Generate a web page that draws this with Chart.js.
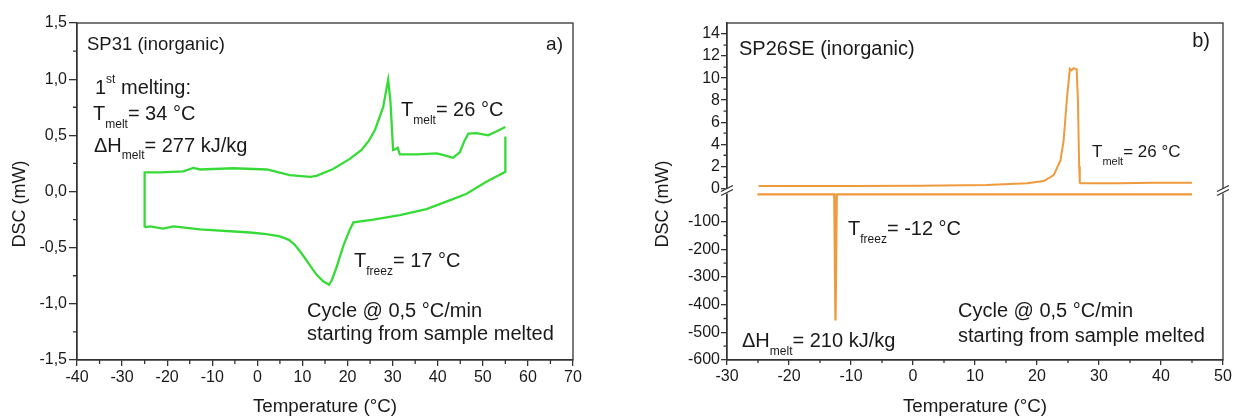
<!DOCTYPE html>
<html>
<head>
<meta charset="utf-8">
<script src="https://cdn.jsdelivr.net/npm/chart.js@4.4.1/dist/chart.umd.min.js"></script>
<style>
  html, body { margin: 0; padding: 0; background: #fff; }
  #wrap { position: relative; width: 1237px; height: 418px; overflow: hidden; }
  #left { position: absolute; left: 0; top: 0; }
  #right { position: absolute; left: 618px; top: 0; }
</style>
</head>
<body>
<div id="wrap">
  <canvas id="left" width="618" height="418"></canvas>
  <canvas id="right" width="619" height="418"></canvas>
</div>
<script>
// panel a) SP31 - cooling from 55 C down to -25 C, then heating back
const aCoolTemp = [55, 55, 50.8, 46.4, 41.9, 37.5, 31.6, 25.7, 21.3, 20.5, 19.0, 17.6, 16.5, 15.9, 14.6, 13.1, 11.7, 10.5, 9.4, 8.2, 7.0, 5.0, 2.0, -1.6, -12.7, -18.6, -20.9, -23.8, -25];
const aCoolDsc = [0.49, 0.175, 0.086, -0.02, -0.09, -0.157, -0.21, -0.25, -0.275, -0.34, -0.49, -0.67, -0.79, -0.83, -0.80, -0.74, -0.66, -0.59, -0.53, -0.47, -0.43, -0.40, -0.38, -0.365, -0.338, -0.31, -0.33, -0.31, -0.32];
const aHeatTemp = [-25, -25, -21.6, -16.4, -14.2, -12.7, -5.3, 2.1, 7.2, 11.7, 13.1, 16.8, 20.5, 23.1, 24.7, 26.1, 27.9, 29.0, 29.5, 30.1, 30.5, 31.1, 31.6, 35.3, 39.8, 41.9, 43.4, 44.9, 46.0, 46.8, 48.6, 51.2, 53.1, 55.0];
const aHeatDsc = [-0.32, 0.17, 0.17, 0.18, 0.21, 0.196, 0.207, 0.196, 0.145, 0.13, 0.14, 0.2, 0.29, 0.37, 0.45, 0.55, 0.75, 0.995, 0.81, 0.37, 0.375, 0.39, 0.33, 0.33, 0.34, 0.317, 0.30, 0.35, 0.457, 0.516, 0.52, 0.50, 0.537, 0.575];
const aTempTicks = [-40, -30, -20, -10, 0, 10, 20, 30, 40, 50, 60, 70];
const aDscTicks = [-1.5, -1.0, -0.5, 0.0, 0.5, 1.0, 1.5];

// panel b) SP26SE - broken y axis (upper 0..15, lower -600..0)
const bHeatTemp = [-24.9, -10, 1.2, 11.9, 18.4, 21.1, 22.7, 23.8, 24.3, 24.8, 25.3, 25.6, 25.9, 26.2, 26.4, 26.6, 26.8, 26.9, 27.1, 33.4, 38.8, 45.0];
const bHeatDsc = [0.21, 0.22, 0.23, 0.3, 0.45, 0.66, 1.2, 2.56, 4.36, 7.98, 10.84, 10.7, 10.9, 10.84, 10.8, 8.0, 2.0, 0.5, 0.45, 0.45, 0.5, 0.5];
const bCoolTemp = [45, -12.3, -12.5, -12.7, -25.1];
const bCoolDsc = [-1.1, -1.1, -457, -1.1, -1.1];
const bTempTicks = [-30, -20, -10, 0, 10, 20, 30, 40, 50];
const bDscUpperTicks = [0, 2, 4, 6, 8, 10, 12, 14];
const bDscLowerTicks = [-600, -500, -400, -300, -200, -100];

const FONT = 'Arial, "Liberation Sans", Helvetica, sans-serif';
const INK = '#1a1a1a';
const AXIS = '#333';

function pts(xs, ys) {
    return xs.map((x, i) => ({ x: x, y: ys[i] }));
}

function fixedTicks(values) {
    return scale => { scale.ticks = values.map(v => ({ value: v })); };
}

function drawRich(ctx, x, y, parts, align) {
    if (align === 'right') {
        let w = 0;
        parts.forEach(p => { ctx.font = p.size + 'px ' + FONT; w += ctx.measureText(p.text).width; });
        x -= w;
    }
    parts.forEach(p => {
        ctx.font = p.size + 'px ' + FONT;
        ctx.fillText(p.text, x, y + (p.dy || 0));
        x += ctx.measureText(p.text).width;
    });
}

// box around plot, minor ticks, rotated y title, text labels, axis break
const decorPlugin = {
    id: 'decor',
    afterDraw(chart, args, opts) {
        const ctx = chart.ctx;
        const a = chart.chartArea;
        ctx.save();
        ctx.strokeStyle = AXIS;
        ctx.lineWidth = 1.3;
        ctx.strokeRect(a.left, a.top, a.right - a.left, a.bottom - a.top);

        // minor ticks half way between the major ones
        Object.keys(opts.minor || {}).forEach(id => {
            const s = chart.scales[id];
            const len = opts.minor[id];
            const vals = s.ticks.map(t => t.value);
            const minors = [];
            for (let i = 0; i < vals.length - 1; i++) minors.push((vals[i] + vals[i + 1]) / 2);
            const step = vals[1] - vals[0];
            const first = vals[0] - step / 2, last = vals[vals.length - 1] + step / 2;
            if (first >= s.min + 0.01) minors.push(first);
            if (last <= s.max - 0.01) minors.push(last);
            ctx.beginPath();
            minors.forEach(v => {
                const p = s.getPixelForValue(v);
                if (s.isHorizontal()) {
                    ctx.moveTo(p, s.top);
                    ctx.lineTo(p, s.top + len);
                } else {
                    ctx.moveTo(s.right, p);
                    ctx.lineTo(s.right - len, p);
                }
            });
            ctx.stroke();
        });

        // axis break marks
        if (opts.breakAt) {
            const yb = chart.scales[opts.breakAt].bottom - 1;
            [a.left, a.right].forEach(xb => {
                ctx.fillStyle = '#fff';
                ctx.fillRect(xb - 2, yb - 2, 4, 5);
                ctx.beginPath();
                ctx.moveTo(xb - 6, yb + 5); ctx.lineTo(xb + 6, yb - 1);
                ctx.moveTo(xb - 6, yb + 1); ctx.lineTo(xb + 6, yb - 5);
                ctx.stroke();
            });
        }

        ctx.fillStyle = INK;
        if (opts.yTitle) {
            ctx.save();
            ctx.translate(opts.yTitle.x, opts.yTitle.y);
            ctx.rotate(-Math.PI / 2);
            ctx.font = '18px ' + FONT;
            ctx.textAlign = 'center';
            ctx.textBaseline = 'middle';
            ctx.fillText(opts.yTitle.text, 0, 0);
            ctx.restore();
        }

        ctx.textBaseline = 'alphabetic';
        ctx.textAlign = 'left';
        (opts.labels || []).forEach(l => drawRich(ctx, l.x, l.y, l.parts, l.align));
        ctx.restore();
    }
};

function tickFont() {
    return { family: FONT, size: 16 };
}

function xScale(min, max, values, tickLen) {
    return {
        type: 'linear',
        min: min,
        max: max,
        afterBuildTicks: fixedTicks(values),
        afterFit: s => { s.height = 58; },
        ticks: { color: INK, font: tickFont(), padding: 2, autoSkip: false, maxRotation: 0 },
        grid: { drawOnChartArea: false, drawTicks: true, tickLength: tickLen, color: AXIS, lineWidth: 1.3 },
        border: { color: AXIS, width: 1.3 },
        title: { display: true, text: 'Temperature (\u00B0C)', color: INK, font: { family: FONT, size: 18.8 }, padding: { top: 0, bottom: 0 } }
    };
}

const T20 = 20, SUB = 12;

// ---------- panel a ----------
new Chart(document.getElementById('left'), {
    type: 'scatter',
    data: {
        datasets: [
            { data: pts(aCoolTemp, aCoolDsc), showLine: true, borderColor: '#37db37', borderWidth: 2.3, pointRadius: 0, tension: 0 },
            { data: pts(aHeatTemp, aHeatDsc), showLine: true, borderColor: '#37db37', borderWidth: 2.3, pointRadius: 0, tension: 0 }
        ]
    },
    options: {
        responsive: false,
        animation: false,
        layout: { padding: { top: 23, right: 45, left: 0, bottom: 0 } },
        scales: {
            x: xScale(-40, 70, aTempTicks, 6),
            y: {
                type: 'linear',
                min: -1.5,
                max: 1.5,
                afterBuildTicks: fixedTicks(aDscTicks),
                afterFit: s => { s.width = 77; },
                ticks: { color: INK, font: tickFont(), padding: 2, autoSkip: false,
                    callback: v => v.toFixed(1).replace('.', ',') },
                grid: { drawOnChartArea: false, drawTicks: true, tickLength: 8, color: AXIS, lineWidth: 1.3 },
                border: { color: AXIS, width: 1.3 }
            }
        },
        plugins: {
            legend: { display: false },
            tooltip: { enabled: false },
            decor: {
                minor: { x: 4, y: 4 },
                yTitle: { text: 'DSC (mW)', x: 20, y: 204 },
                labels: [
                    { x: 87, y: 50, parts: [{ text: 'SP31 (inorganic)', size: 18.5 }] },
                    { x: 563, y: 50, align: 'right', parts: [{ text: 'a)', size: 19 }] },
                    { x: 95, y: 94, parts: [{ text: '1', size: T20 }, { text: 'st', size: SUB, dy: -11.5 }, { text: ' melting:', size: T20 }] },
                    { x: 93, y: 120, parts: [{ text: 'T', size: T20 }, { text: 'melt', size: SUB, dy: 7.7 }, { text: '= 34 \u00B0C', size: T20 }] },
                    { x: 94, y: 152, parts: [{ text: '\u0394H', size: T20 }, { text: 'melt', size: SUB, dy: 7.3 }, { text: '= 277 kJ/kg', size: T20 }] },
                    { x: 401, y: 116, parts: [{ text: 'T', size: T20 }, { text: 'melt', size: SUB, dy: 7.6 }, { text: '= 26 \u00B0C', size: T20 }] },
                    { x: 354, y: 267, parts: [{ text: 'T', size: T20 }, { text: 'freez', size: SUB, dy: 7.6 }, { text: '= 17 \u00B0C', size: T20 }] },
                    { x: 307, y: 317, parts: [{ text: 'Cycle @ 0,5 \u00B0C/min', size: T20 }] },
                    { x: 307, y: 340, parts: [{ text: 'starting from sample melted', size: T20 }] }
                ]
            }
        }
    },
    plugins: [decorPlugin]
});

// ---------- panel b ----------
new Chart(document.getElementById('right'), {
    type: 'scatter',
    data: {
        datasets: [
            { data: pts(bHeatTemp, bHeatDsc), yAxisID: 'yUp', showLine: true, borderColor: '#f09a3e', borderWidth: 2, pointRadius: 0, tension: 0 },
            { data: pts(bCoolTemp, bCoolDsc), yAxisID: 'yLow', showLine: true, borderColor: '#f09a3e', borderWidth: 2.3, pointRadius: 0, tension: 0 }
        ]
    },
    options: {
        responsive: false,
        animation: false,
        layout: { padding: { top: 23, right: 14, left: 0, bottom: 0 } },
        scales: {
            x: xScale(-30, 50, bTempTicks, 5),
            yLow: {
                type: 'linear',
                position: 'left',
                stack: 'dsc',
                min: -600,
                max: 9,
                afterBuildTicks: fixedTicks(bDscLowerTicks),
                afterFit: s => { s.width = 109; },
                ticks: { color: INK, font: tickFont(), padding: 1, autoSkip: false },
                grid: { drawOnChartArea: false, drawTicks: true, tickLength: 6, color: AXIS, lineWidth: 1.3 },
                border: { color: AXIS, width: 1.3 }
            },
            yUp: {
                type: 'linear',
                position: 'left',
                stack: 'dsc',
                min: -0.29,
                max: 15,
                afterBuildTicks: fixedTicks(bDscUpperTicks),
                afterFit: s => { s.width = 109; },
                ticks: { color: INK, font: tickFont(), padding: 1, autoSkip: false },
                grid: { drawOnChartArea: false, drawTicks: true, tickLength: 6, color: AXIS, lineWidth: 1.3 },
                border: { color: AXIS, width: 1.3 }
            }
        },
        plugins: {
            legend: { display: false },
            tooltip: { enabled: false },
            decor: {
                minor: { x: 3, yLow: 3.5, yUp: 3.5 },
                breakAt: 'yUp',
                yTitle: { text: 'DSC (mW)', x: 45, y: 204 },
                labels: [
                    { x: 121, y: 54.5, parts: [{ text: 'SP26SE (inorganic)', size: T20 }] },
                    { x: 592, y: 47, align: 'right', parts: [{ text: 'b)', size: T20 }] },
                    { x: 474, y: 157, parts: [{ text: 'T', size: 17 }, { text: 'melt', size: 11, dy: 7.6 }, { text: '= 26 \u00B0C', size: 17 }] },
                    { x: 230, y: 235, parts: [{ text: 'T', size: T20 }, { text: 'freez', size: SUB, dy: 8.3 }, { text: '= -12 \u00B0C', size: T20 }] },
                    { x: 124, y: 347, parts: [{ text: '\u0394H', size: T20 }, { text: 'melt', size: SUB, dy: 7.7 }, { text: '= 210 kJ/kg', size: T20 }] },
                    { x: 340, y: 317, parts: [{ text: 'Cycle @ 0,5 \u00B0C/min', size: T20 }] },
                    { x: 340, y: 342, parts: [{ text: 'starting from sample melted', size: T20 }] }
                ]
            }
        }
    },
    plugins: [decorPlugin]
});
</script>
</body>
</html>
